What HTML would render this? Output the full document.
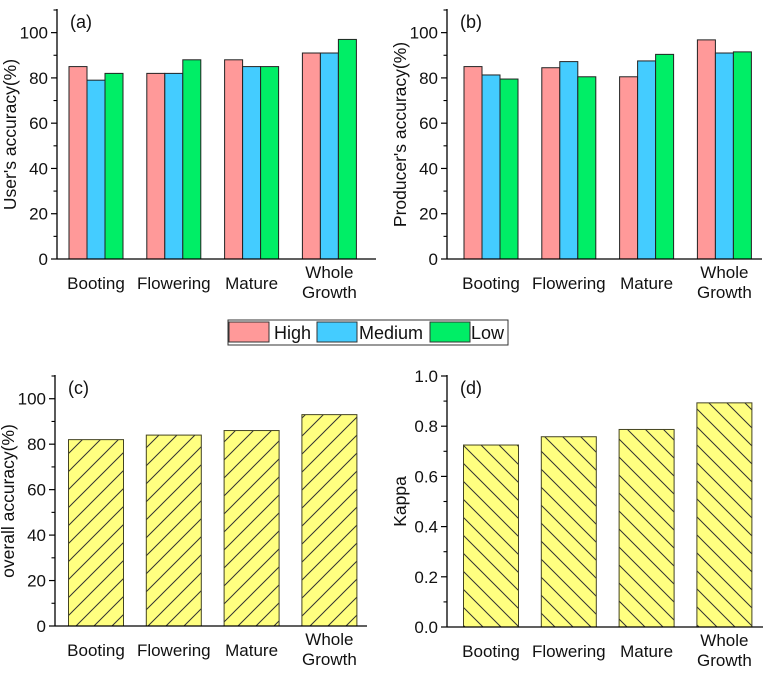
<!DOCTYPE html>
<html><head><meta charset="utf-8">
<style>
body{margin:0;background:#fff;}
svg text{font-family:"Liberation Sans",Arial,sans-serif;fill:#111;}
</style></head>
<body>
<svg id="chart" width="767" height="680" viewBox="0 0 767 680" xmlns="http://www.w3.org/2000/svg">
<defs>
<pattern id="hatchF" patternUnits="userSpaceOnUse" width="18" height="18">
<rect width="18" height="18" fill="#ffff80"/>
<path d="M-2,20 L20,-2 M-2,2 L2,-2 M16,20 L20,16" stroke="#333" stroke-width="1"/>
</pattern>
<pattern id="hatchB" patternUnits="userSpaceOnUse" width="18" height="18">
<rect width="18" height="18" fill="#ffff80"/>
<path d="M-2,-2 L20,20 M-2,16 L2,20 M16,-2 L20,2" stroke="#333" stroke-width="1"/>
</pattern>
</defs>
</svg>
<script>
const categories = ["Booting","Flowering","Mature","Whole Growth"];
const seriesNames = ["High","Medium","Low"];
const seriesColors = ["#ff9999","#44ccff","#00ee66"];
const userHigh = [85,82,88,91];
const userMedium = [79,82,85,91];
const userLow = [82,88,85,97];
const prodHigh = [85,84.5,80.5,96.8];
const prodMedium = [81.3,87.2,87.5,91];
const prodLow = [79.5,80.5,90.4,91.5];
const overallAcc = [82,84,86,93];
const kappaVals = [0.725,0.758,0.787,0.893];
const pctTicks = [0,20,40,60,80,100];
const kappaTicks = [0,0.2,0.4,0.6,0.8,1.0];

const svg = document.getElementById('chart');
const NS = 'http://www.w3.org/2000/svg';
function mk(tag, attrs, parent){
  const e = document.createElementNS(NS, tag);
  for (const k in attrs) e.setAttribute(k, attrs[k]);
  (parent||svg).appendChild(e);
  return e;
}
function txt(s, attrs, parent){ const t = mk('text', attrs, parent); t.textContent = s; return t; }

function panel(o){
  const g = mk('g', {});
  
  
  const yS = v => o.y0 - (v - 0) / o.vmax * (o.y0 - o.yTop);
  const xC = i => o.ax + o.off + i * 77.8;
  if (o.series.length === 3) {
    o.series.forEach((arr, s) => {
      arr.forEach((v, i) => {
        const x = xC(i) - 27 + s * 18;
        const r = mk('rect', {x: x, y: yS(v), width: 18, height: o.y0 - yS(v), fill: seriesColors[s], stroke: '#222', 'stroke-width': 1}, g);
        
        
      });
    });
  } else {
    o.series[0].forEach((v, i) => {
      const r = mk('rect', {x: xC(i) - 27.5, y: yS(v), width: 55, height: o.y0 - yS(v), fill: 'url(#' + o.hatch + ')', stroke: '#444422', 'stroke-width': 1}, g);
      
      
    });
  }
  const ya = mk('line', {x1: o.ax, y1: o.yTop - 1, x2: o.ax, y2: o.y0, stroke: '#000', 'stroke-width': 1.3}, g);
  
  
  const xa = mk('line', {x1: o.ax, y1: o.y0, x2: o.xEnd, y2: o.y0, stroke: '#000', 'stroke-width': 1.3}, g);
  
  
  o.ticks.forEach((t, i) => {
    mk('line', {x1: o.ax - 6, y1: yS(t), x2: o.ax, y2: yS(t), stroke: '#000', 'stroke-width': 1.2}, g);
    const lb = txt(o.fmt(t), {x: o.ax - 9, y: yS(t) + 6, 'text-anchor': 'end', 'font-size': 17}, g);
    
    
    if (i < o.ticks.length - 1) {
      const m = (t + o.ticks[i + 1]) / 2;
      mk('line', {x1: o.ax - 3.5, y1: yS(m), x2: o.ax, y2: yS(m), stroke: '#000', 'stroke-width': 1.1}, g);
    }
  });
  if (o.extraMinor !== undefined && o.extraMinor <= o.vmax) {
    mk('line', {x1: o.ax - 3.5, y1: yS(o.extraMinor), x2: o.ax, y2: yS(o.extraMinor), stroke: '#000', 'stroke-width': 1.1}, g);
  }
  categories.forEach((c, i) => {
    const parts = c.split(' ');
    if (parts.length === 1) {
      const t = txt(c, {x: xC(i), y: o.y0 + 30, 'text-anchor': 'middle', 'font-size': 17}, g);
      
      
    } else {
      const t1 = txt(parts[0], {x: xC(i), y: o.y0 + 19, 'text-anchor': 'middle', 'font-size': 17}, g);
      
      
      const t2 = txt(parts[1], {x: xC(i), y: o.y0 + 39, 'text-anchor': 'middle', 'font-size': 17}, g);
      
      
    }
  });
  const yc = (o.yTop + o.y0) / 2;
  const tt = txt(o.title, {x: 0, y: 0, 'text-anchor': 'middle', 'font-size': 17.5, transform: 'translate(' + (o.ax - 41) + ',' + yc + ') rotate(-90)'}, g);
  
  
  const pl = txt(o.label, {x: o.ax + 13, y: o.yTop + 18, 'font-size': 18}, g);
  
  
}

const pct = v => String(v);
const kf = v => v.toFixed(1);
panel({name:'panel-a', ax:57, y0:259, yTop:10, vmax:110, xEnd:376, off:39, series:[userHigh,userMedium,userLow], ticks:pctTicks, fmt:pct, extraMinor:110, title:"User's accuracy(%)", label:'(a)'});
panel({name:'panel-b', ax:447, y0:259, yTop:10, vmax:110, xEnd:762, off:44, series:[prodHigh,prodMedium,prodLow], ticks:pctTicks, fmt:pct, extraMinor:110, title:"Producer's accuracy(%)", label:'(b)'});
panel({name:'panel-c', ax:55, y0:626, yTop:376, vmax:110, xEnd:367, off:41, series:[overallAcc], hatch:'hatchF', ticks:pctTicks, fmt:pct, extraMinor:110, title:'overall accuracy(%)', label:'(c)'});
panel({name:'panel-d', ax:447, y0:627, yTop:376, vmax:1.0, xEnd:763, off:44, series:[kappaVals], hatch:'hatchB', ticks:kappaTicks, fmt:kf, title:'Kappa', label:'(d)'});

const lg = mk('g', {});


mk('rect', {x: 228, y: 320, width: 280, height: 25, fill: '#fff', stroke: '#333', 'stroke-width': 1}, lg);
const lx = [[229, 274], [317, 359], [430, 471]];
seriesNames.forEach((n, i) => {
  const e = mk('g', {}, lg);
  
  
  mk('rect', {x: lx[i][0], y: 322, width: 40, height: 20, fill: seriesColors[i], stroke: '#333', 'stroke-width': 1}, e);
  txt(n, {x: lx[i][1], y: 339, 'font-size': 18}, e);
});
</script>
</body></html>
